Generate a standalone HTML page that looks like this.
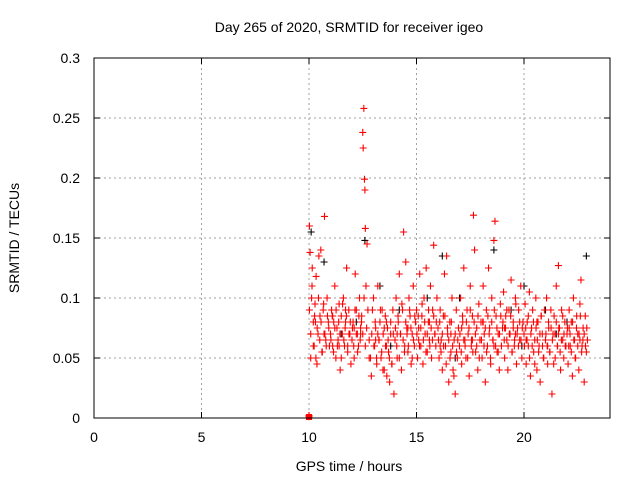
<!DOCTYPE html>
<html><head><meta charset="utf-8"><style>
html,body{margin:0;padding:0;background:#fff;}
svg{display:block;font-family:"Liberation Sans",sans-serif;}
</style></head><body>
<svg id="chart" width="640" height="480">
<text x="349" y="32" font-size="14" text-anchor="middle">Day 265 of 2020, SRMTID for receiver igeo</text>
<text x="349" y="471" font-size="14" text-anchor="middle">GPS time / hours</text>
<text transform="translate(19,238) rotate(-90)" font-size="14" text-anchor="middle">SRMTID / TECUs</text>
<g id="grid"></g>
<g id="ticks"></g>
<g id="marks"></g>
<rect x="94" y="58" width="516" height="360" fill="none" stroke="#000" stroke-width="1"/>
</svg>
<script>
const xTicks=[0,5,10,15,20];
const yTicks=[0,0.05,0.1,0.15,0.2,0.25,0.3];
const yTickLabels=["0","0.05","0.1","0.15","0.2","0.25","0.3"];
const redTimes=[10.02,10.05,10.08,10.12,10.15,10.2,10.24,10.28,10.33,10.37,10.42,10.46,10.51,10.55,10.6,10.66,10.72,10.78,10.84,10.9,10.95,
11.0,11.05,11.1,11.15,11.2,11.25,11.3,11.35,11.4,11.45,11.5,11.55,11.6,11.65,11.7,11.75,11.8,11.85,11.9,11.95,
12.0,12.05,12.1,12.15,12.2,12.25,12.3,12.35,12.4,12.45,12.5,12.52,12.55,12.58,12.6,12.62,12.65,12.7,12.8,12.9,12.95,
13.0,13.05,13.1,13.15,13.2,13.25,13.3,13.35,13.4,13.45,13.5,13.55,13.6,13.65,13.7,13.75,13.8,13.85,13.9,13.95,
14.0,14.05,14.1,14.15,14.2,14.25,14.3,14.35,14.4,14.45,14.5,14.55,14.6,14.65,14.7,14.75,14.8,14.85,14.9,14.95,
15.0,15.05,15.1,15.15,15.2,15.25,15.3,15.35,15.4,15.45,15.5,15.55,15.6,15.65,15.7,15.75,15.8,15.85,15.9,15.95,
16.0,16.05,16.1,16.15,16.2,16.25,16.3,16.35,16.4,16.45,16.5,16.55,16.6,16.65,16.7,16.75,16.8,16.85,16.9,16.95,
17.0,17.05,17.1,17.15,17.2,17.25,17.3,17.35,17.4,17.45,17.5,17.55,17.6,17.65,17.7,17.75,17.8,17.85,17.9,17.95,
18.0,18.05,18.1,18.15,18.2,18.25,18.3,18.35,18.4,18.45,18.5,18.55,18.6,18.65,18.7,18.75,18.8,18.85,18.9,18.95,
19.0,19.05,19.1,19.15,19.2,19.25,19.3,19.35,19.4,19.45,19.5,19.55,19.6,19.65,19.7,19.75,19.8,19.85,19.9,19.95,
20.0,20.05,20.1,20.15,20.2,20.25,20.3,20.35,20.4,20.45,20.5,20.55,20.6,20.65,20.7,20.75,20.8,20.85,20.9,20.95,
21.0,21.05,21.1,21.15,21.2,21.25,21.3,21.35,21.4,21.45,21.5,21.55,21.6,21.65,21.7,21.75,21.8,21.85,21.9,21.95,
22.0,22.05,22.1,22.15,22.2,22.25,22.3,22.35,22.4,22.45,22.5,22.55,22.6,22.65,22.7,22.75,22.8,22.85,22.9,22.95,
10.0,10.0,10.3,10.7,11.1,11.4,11.7,12.1,12.4,13.1,13.6,14.1,14.6,15.1,15.6,16.1,16.6,17.1,17.6,18.1,18.6,19.1,19.6,20.1,20.6,21.1,21.6,22.1,22.6];
const redValues=[.16,.138,.05,.10,.125,.08,.06,.095,.118,.045,.07,.135,.085,.14,.055,.09,.168,.065,.1,.08,.06,
.07,.09,.06,.08,.11,.05,.075,.065,.095,.04,.085,.07,.1,.06,.08,.125,.055,.09,.07,.045,
.065,.08,.05,.12,.09,.07,.06,.1,.075,.085,.238,.225,.258,.199,.19,.158,.11,.145,.05,.035,.09,
.1,.06,.075,.045,.11,.065,.08,.05,.09,.07,.04,.085,.06,.075,.055,.03,.07,.045,.09,.02,
.065,.1,.05,.08,.12,.07,.04,.09,.155,.06,.13,.075,.055,.1,.085,.045,.07,.11,.06,.08,
.09,.05,.075,.12,.06,.085,.045,.1,.07,.125,.055,.08,.065,.11,.05,.09,.144,.07,.06,.1,
.075,.05,.09,.065,.04,.085,.12,.06,.135,.07,.03,.08,.055,.1,.04,.065,.02,.09,.05,.075,
.06,.1,.045,.08,.125,.065,.05,.09,.07,.035,.11,.06,.085,.169,.14,.055,.075,.04,.095,.065,
.08,.05,.11,.07,.03,.09,.06,.125,.075,.045,.1,.065,.148,.164,.085,.055,.07,.04,.095,.06,
.075,.105,.05,.085,.065,.04,.09,.07,.115,.055,.08,.06,.1,.045,.075,.09,.065,.11,.05,.08,
.07,.095,.045,.08,.06,.105,.035,.075,.09,.055,.065,.1,.04,.08,.06,.03,.085,.07,.05,.09,
.065,.1,.045,.075,.055,.09,.02,.07,.085,.05,.11,.06,.127,.075,.04,.09,.065,.05,.08,.06,
.07,.045,.09,.06,.08,.035,.1,.065,.05,.085,.07,.04,.095,.115,.06,.075,.03,.085,.055,.065,
.001,.002,.08,.07,.085,.06,.09,.075,.07,.065,.08,.07,.075,.065,.08,.06,.07,.075,.065,.08,.06,.075,.07,.065,.08,.06,.07,.075,.065];
const redTimes2=[10.02,10.08,10.14,10.2,10.26,10.32,10.38,10.44,10.5,10.56,10.62,10.68,10.74,10.8,10.86,10.92,
11.02,11.08,11.14,11.2,11.26,11.32,11.38,11.44,11.5,11.56,11.62,11.68,11.74,11.8,11.86,11.92,
12.02,12.08,12.14,12.2,12.26,12.32,12.38,12.44,12.5,12.56,12.62,12.68,12.74,12.8,12.86,12.92,
13.02,13.08,13.14,13.2,13.26,13.32,13.38,13.44,13.5,13.56,13.62,13.68,13.74,13.8,13.86,13.92,
14.02,14.08,14.14,14.2,14.26,14.32,14.38,14.44,14.5,14.56,14.62,14.68,14.74,14.8,14.86,14.92,
15.02,15.08,15.14,15.2,15.26,15.32,15.38,15.44,15.5,15.56,15.62,15.68,15.74,15.8,15.86,15.92,
16.02,16.08,16.14,16.2,16.26,16.32,16.38,16.44,16.5,16.56,16.62,16.68,16.74,16.8,16.86,16.92,
17.02,17.08,17.14,17.2,17.26,17.32,17.38,17.44,17.5,17.56,17.62,17.68,17.74,17.8,17.86,17.92,
18.02,18.08,18.14,18.2,18.26,18.32,18.38,18.44,18.5,18.56,18.62,18.68,18.74,18.8,18.86,18.92,
19.02,19.08,19.14,19.2,19.26,19.32,19.38,19.44,19.5,19.56,19.62,19.68,19.74,19.8,19.86,19.92,
20.02,20.08,20.14,20.2,20.26,20.32,20.38,20.44,20.5,20.56,20.62,20.68,20.74,20.8,20.86,20.92,
21.02,21.08,21.14,21.2,21.26,21.32,21.38,21.44,21.5,21.56,21.62,21.68,21.74,21.8,21.86,21.92,
22.02,22.08,22.14,22.2,22.26,22.32,22.38,22.44,22.5,22.56,22.62,22.68,22.74,22.8,22.86,22.92];
const redValues2=[.09,.07,.11,.06,.085,.05,.075,.1,.065,.08,.055,.095,.07,.06,.085,.075,
.065,.085,.055,.075,.09,.06,.08,.07,.05,.095,.065,.075,.085,.06,.07,.08,
.075,.06,.09,.07,.055,.085,.065,.08,.07,.1,.06,.075,.09,.065,.05,.07,
.06,.08,.05,.07,.065,.09,.055,.04,.075,.06,.035,.065,.05,.08,.045,.07,
.075,.06,.085,.05,.07,.095,.065,.055,.08,.07,.06,.09,.075,.05,.065,.085,
.07,.085,.06,.075,.095,.065,.08,.055,.07,.09,.06,.075,.065,.085,.07,.08,
.065,.08,.055,.07,.06,.085,.045,.075,.065,.05,.08,.06,.035,.07,.055,.065,
.07,.055,.085,.065,.06,.08,.05,.075,.09,.065,.055,.08,.07,.06,.085,.05,
.065,.08,.06,.075,.055,.085,.07,.05,.08,.065,.09,.06,.075,.055,.07,.085,
.08,.065,.075,.09,.06,.07,.085,.055,.075,.065,.095,.07,.06,.08,.065,.075,
.06,.075,.065,.085,.05,.07,.06,.08,.045,.075,.065,.055,.07,.085,.06,.05,
.07,.06,.08,.055,.075,.065,.045,.07,.08,.06,.075,.055,.065,.085,.07,.06,
.075,.06,.07,.055,.08,.065,.05,.075,.06,.07,.085,.055,.065,.07,.06,.075];
const blackTimes=[10.1,10.7,12.6,13.3,14.2,15.5,16.2,17.0,18.6,19.4,20.0,21.0,22.0,22.9,11.5,13.8,16.8,19.9,21.5,12.2];
const blackValues=[.155,.13,.148,.11,.09,.1,.135,.1,.14,.09,.11,.09,.08,.135,.07,.06,.05,.06,.07,.08];

const X0=94,X1=610,Y0=418,Y1=58;
const xScale=t=>X0+(t/24)*(X1-X0);
const yScale=v=>Y0-(v/0.3)*(Y0-Y1);
const NS="http://www.w3.org/2000/svg";
const grid=document.getElementById('grid'),ticks=document.getElementById('ticks'),marks=document.getElementById('marks');
function mk(tag,attrs,parent){const e=document.createElementNS(NS,tag);for(const k in attrs)e.setAttribute(k,attrs[k]);parent.appendChild(e);return e;}
xTicks.forEach(t=>{
  const x=xScale(t);
  if(t>0){const g=mk('line',{x1:x,x2:x,y1:Y1,y2:Y0,stroke:'#a0a0a0','stroke-dasharray':'2,3'},grid);
  
  }
  mk('line',{x1:x,x2:x,y1:Y0,y2:Y0-6,stroke:'#000'},ticks);
  mk('line',{x1:x,x2:x,y1:Y1,y2:Y1+6,stroke:'#000'},ticks);
  const l=mk('text',{x:x,y:Y0+24,'font-size':14,'text-anchor':'middle'},ticks);l.textContent=t;
  
  
});
yTicks.forEach((v,i)=>{
  const y=yScale(v);
  if(i>0&&i<yTicks.length-1){const g=mk('line',{x1:X0,x2:X1,y1:y,y2:y,stroke:'#a0a0a0','stroke-dasharray':'2,3'},grid);
  
  }
  mk('line',{x1:X0,x2:X0+6,y1:y,y2:y,stroke:'#000'},ticks);
  mk('line',{x1:X1,x2:X1-6,y1:y,y2:y,stroke:'#000'},ticks);
  const l=mk('text',{x:X0-14,y:y+5,'font-size':14,'text-anchor':'end'},ticks);l.textContent=yTickLabels[i];
  
  
});
function plus(t,v,color,name){
  const x=xScale(t),y=yScale(v);
  const p=mk('path',{d:`M${x-3.5},${y}H${x+3.5}M${x},${y-3.5}V${y+3.5}`,stroke:color,'stroke-width':1.1,fill:'none'},marks);
  
  
}
blackTimes.forEach((t,i)=>plus(t,blackValues[i],'#000','black-point'));
redTimes.forEach((t,i)=>plus(t,redValues[i],'#ff0000','red-point'));
redTimes2.forEach((t,i)=>plus(t,redValues2[i],'#ff0000','red-point'));
const sq=mk('rect',{x:xScale(10)-3,y:Y0-4,width:6,height:6,fill:'#ff0000'},marks);


</script>
</body></html>
